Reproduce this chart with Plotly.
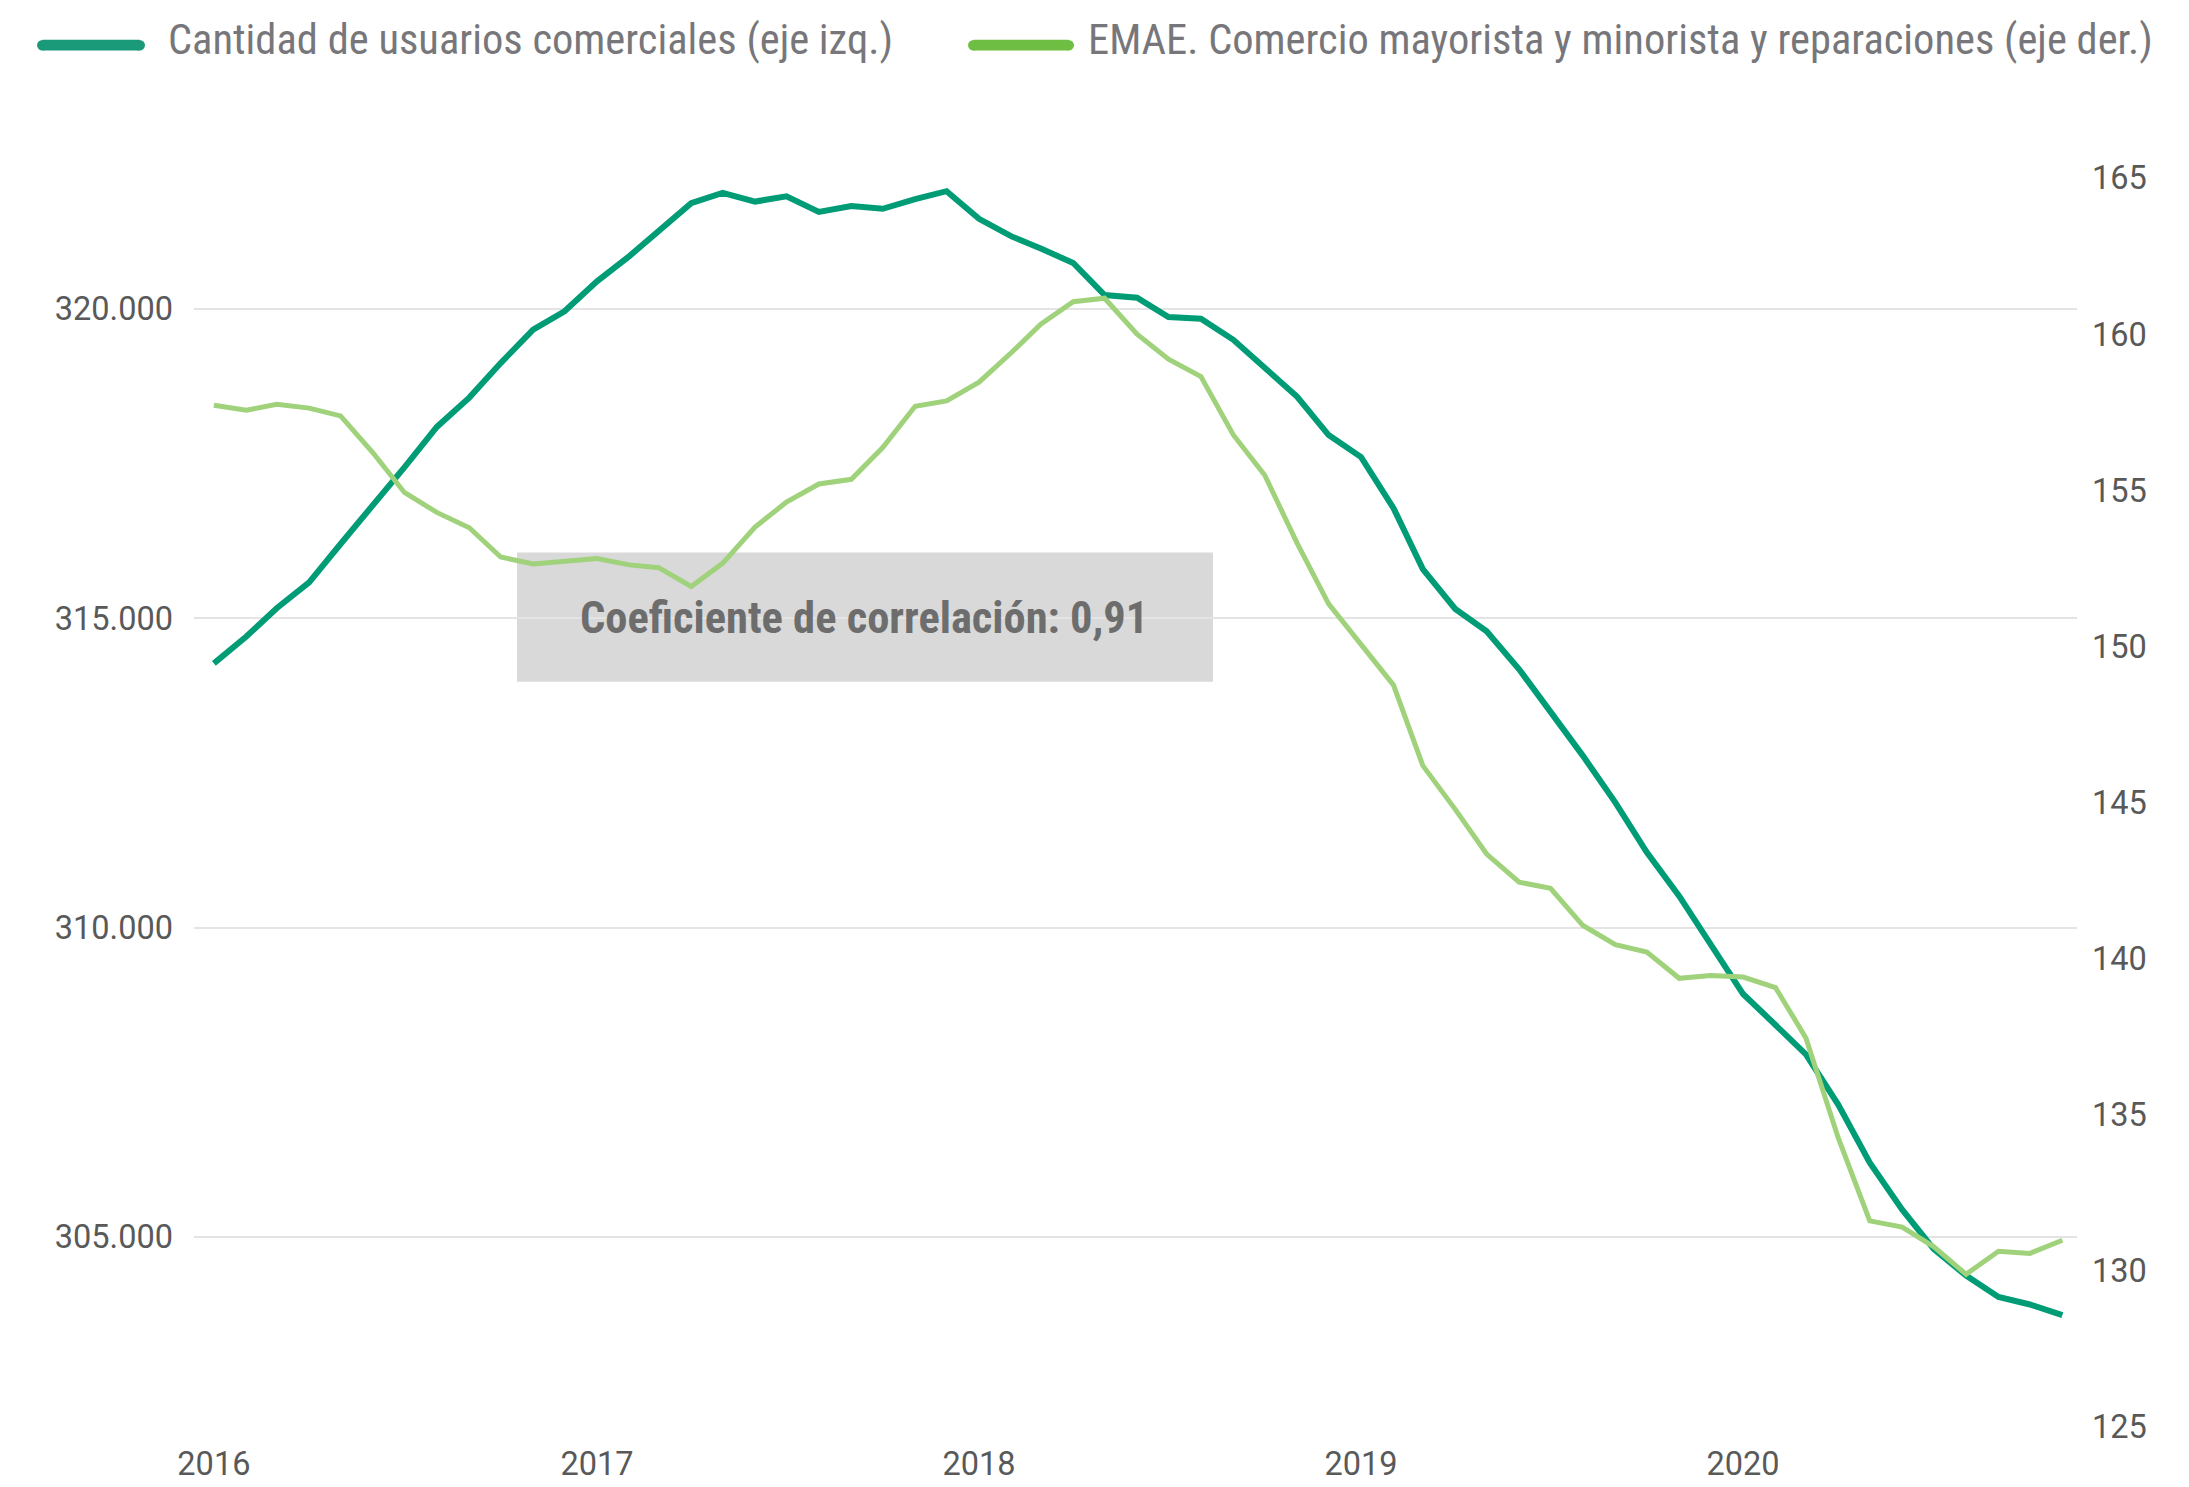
import pandas as pd
import plotly.graph_objects as go

# Serie mensual, ene-2016 a nov-2020
meses = pd.date_range("2016-01-01", periods=59, freq="MS")

usuarios = [314269, 314704, 315162, 315580, 316200, 316819, 317439, 318092, 318566, 319124,
            319665, 319961, 320446, 320854, 321272, 321708, 321875, 321735, 321819, 321568,
            321663, 321618, 321775, 321903, 321456, 321172, 320977, 320742, 320223, 320180,
            319870, 319840, 319500, 319060, 318580, 317960, 317605, 316780, 315795, 315150,
            314790, 314175, 313485, 312775, 312020, 311217, 310506, 309715, 308925, 308425,
            307950, 307134, 306200, 305440, 304805, 304373, 304028, 303906, 303736]

emae = [157.72, 157.56, 157.75, 157.63, 157.38, 156.20, 154.93, 154.29, 153.80, 152.86,
        152.64, 152.74, 152.81, 152.61, 152.52, 151.92, 152.66, 153.82, 154.62, 155.20,
        155.35, 156.37, 157.69, 157.86, 158.46, 159.41, 160.32, 161.04, 161.15, 160.00,
        159.20, 158.64, 156.77, 155.48, 153.30, 151.36, 150.07, 148.76, 146.18, 144.78,
        143.35, 142.45, 142.25, 141.06, 140.45, 140.21, 139.37, 139.46, 139.41, 139.07,
        137.46, 134.25, 131.60, 131.40, 130.78, 129.89, 130.63, 130.56, 130.98]

ticks_izq = [305000, 310000, 315000, 320000]
ticks_der = [125, 130, 135, 140, 145, 150, 155, 160, 165]

nombre_usuarios = "Cantidad de usuarios comerciales (eje izq.)"
nombre_emae = "EMAE. Comercio mayorista y minorista y reparaciones (eje der.)"
texto_corr = "Coeficiente de correlación: 0,91"

W, H = 2189, 1487
L, R, T, B = 186, 120, 170, 50
PW, PH = W - L - R, H - T - B

def px(x):
    return (x - L) / PW

def py(y):
    return (H - B - y) / PH

FONT = "Roboto"
COND = "Roboto Condensed, Liberation Sans Narrow, DejaVu Sans Condensed, Roboto"

fig = go.Figure()
fig.add_trace(go.Scatter(x=meses, y=usuarios, mode="lines", name=nombre_usuarios,
                         line=dict(color="#009c76", width=6)))
fig.add_trace(go.Scatter(x=meses, y=emae, mode="lines", name=nombre_emae, yaxis="y2",
                         line=dict(color="#9fd27b", width=5)))

axis_font = dict(family=FONT, size=32.5, color="#595959")

fig.update_layout(
    width=W, height=H,
    margin=dict(l=L, r=R, t=T, b=B),
    paper_bgcolor="white", plot_bgcolor="white",
    showlegend=False,
    separators=",.",
    xaxis=dict(type="date", range=["2015-12-13", "2020-11-15"], tickformat="%Y",
               dtick="M12", tick0="2016-01-01", showgrid=False, zeroline=False,
               showline=False, ticks="", tickfont=axis_font, ticklabelstandoff=14),
    yaxis=dict(range=[301926, 322116], tickvals=ticks_izq, tickformat=",",
               showgrid=True, gridcolor="#e4e4e4", gridwidth=2, zeroline=False,
               showline=False, ticks="", tickfont=axis_font, ticklabelstandoff=20),
    yaxis2=dict(range=[125, 165], tickvals=ticks_der, overlaying="y", side="right",
                showgrid=False, zeroline=False, showline=False, ticks="",
                tickfont=axis_font, ticklabelstandoff=14),
)

# cuadro del coeficiente
fig.add_shape(type="rect", xref="paper", yref="paper", x0=px(509), x1=px(1205),
              y0=py(681), y1=py(550), fillcolor="#d9d9d9", line=dict(width=0), layer="between")
fig.add_annotation(xref="paper", yref="paper", x=px(856), y=py(616), text="<b>" + texto_corr + "</b>",
                   showarrow=False, xanchor="center", yanchor="middle",
                   font=dict(family=COND, size=44.5, color="#6d6d6d"))

# leyenda manual (trazo con extremos redondeados)
r = 5.4
for x0, x1, xt, color, texto in [(29, 137, 158, "#1a9a78", nombre_usuarios),
                                 (960, 1066, 1078, "#6fbe44", nombre_emae)]:
    fig.add_shape(type="line", xref="paper", yref="paper", x0=px(x0 + r), x1=px(x1 - r),
                  y0=py(35.3), y1=py(35.3), line=dict(color=color, width=2 * r))
    for xc in (x0 + r, x1 - r):
        fig.add_shape(type="circle", xref="paper", yref="paper", x0=px(xc - r), x1=px(xc + r),
                      y0=py(35.3 + r), y1=py(35.3 - r), fillcolor=color, line=dict(width=0))
    fig.add_annotation(xref="paper", yref="paper", x=px(xt), y=py(30), text=texto,
                       showarrow=False, xanchor="left", yanchor="middle",
                       font=dict(family=COND, size=42.5, color="#77777b"))

fig.write_html("out.html")
